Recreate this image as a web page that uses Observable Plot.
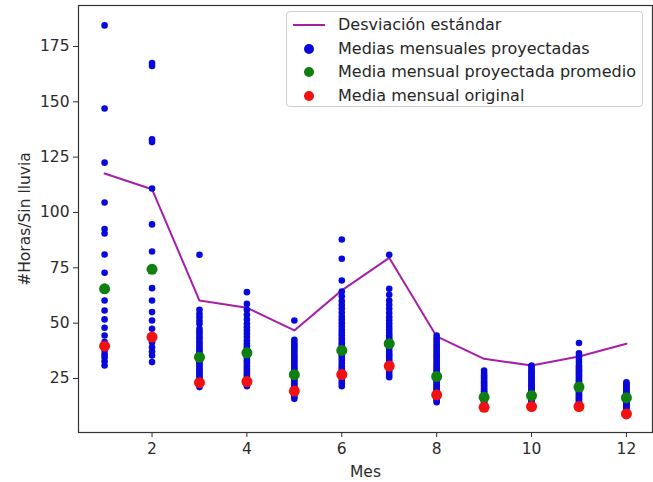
<!DOCTYPE html>
<html>
<head>
<meta charset="utf-8">
<script src="https://cdn.jsdelivr.net/npm/d3@7"></script>
<script src="https://cdn.jsdelivr.net/npm/@observablehq/plot@0.6"></script>
<style>
  body { margin: 0; background: #fff; }
  #wrap { position: relative; width: 653px; height: 482px; font-family: "DejaVu Sans", sans-serif; }
  #legend {
    position: absolute; left: 286px; top: 11px; width: 357px; height: 96px;
    box-sizing: border-box; border: 1px solid #d0d0d0; border-radius: 4px;
    background: rgba(255,255,255,0.85); font-size: 16px; color: #262626;
  }
  .row { position: absolute; left: 0; height: 24px; line-height: 24px; }
  .row span.t { position: absolute; left: 51px; white-space: nowrap; }
  .sw-line { position: absolute; left: 6px; top: 11px; width: 32px; height: 2px; }
  .sw-dot { position: absolute; left: 17px; top: 7px; width: 10px; height: 10px; border-radius: 50%; }
</style>
</head>
<body>
<div id="wrap"><div id="chart"></div><div id="legend"></div></div>
<script>
// Months on the x axis
const meses = [1, 2, 3, 4, 5, 6, 7, 8, 9, 10, 11, 12];

// Projected monthly means (one list per month, hours without rain)
const proyectadas = [
  [184.5, 147, 122.5, 104.5, 92.5, 90.5, 81, 72.8, 65.5, 60.2, 55.7, 51.7, 47.9, 44.4, 41.5, 39.6, 37.7, 36, 34.6, 32.8, 30.9],
  [167.5, 166.2, 133, 131.8, 110.8, 94.6, 82.4, 74.3, 65.8, 60.2, 55, 51.2, 47.5, 43.7, 41.4, 39.1, 37.2, 35.4, 32.4],
  [80.9, 56, 54.2, 52.7, 51.1, 49.7, 47.5, 46.3, 45.2, 43.9, 42.9, 41.7, 40.7, 39.5, 38.4, 37.4, 36.5, 35.5, 34.6, 33.7, 33, 32.2, 31.6, 30.5, 29.5, 28.7, 27.8, 26.9, 26, 25.2, 24.5, 23.8, 23.1, 22.1, 21.1],
  [64, 58.7, 56, 53.8, 51.6, 49.7, 48.1, 46.7, 45.2, 43.7, 42.1, 40.7, 39.6, 38.5, 37.5, 36.6, 35.5, 34.5, 33.4, 32.5, 31.5, 30.5, 29.5, 28.5, 27.6, 26.8, 25.9, 25, 24.3, 23.6, 22.5, 21.5],
  [51.2, 42.5, 41.5, 40.5, 39.5, 38.5, 37.5, 36.5, 35.5, 34.5, 33.5, 32.5, 31.5, 30.5, 29.6, 28.6, 27.6, 26.7, 25.7, 24.8, 23.9, 23, 22.1, 21.2, 20.2, 19.3, 18.4, 17.5, 16.6, 15.8],
  [87.8, 79.1, 69.3, 64.3, 62.1, 60, 58.2, 56.5, 54.7, 53, 51.5, 50, 48.5, 47, 45.7, 44.5, 43.2, 42, 40.9, 39.8, 38.7, 37.7, 36.6, 35.5, 34.2, 33, 31.7, 30.5, 29.5, 28.5, 27.6, 26.8, 25.4, 24, 22.7, 21.5],
  [80.9, 65.5, 62.8, 60.2, 58.3, 56.5, 54.6, 52.7, 51.2, 49.7, 48.3, 47, 45.7, 44.5, 43.5, 42.5, 41.6, 40.7, 39.6, 38.5, 37.2, 36, 35, 34, 33, 32, 31.3, 30.6, 29.3, 28, 26.8, 25.6],
  [44.4, 43.2, 42, 41, 40, 39, 38, 37, 36, 35, 34, 33, 32, 31.1, 30.3, 29.4, 28.6, 27.8, 27, 26.4, 25.9, 25.2, 24.5, 23.7, 23, 22.2, 21.5, 20.7, 20, 19.4, 18.8, 18.2, 17.6, 16.8, 16, 15.1, 14.3],
  [28.6, 27.5, 26.5, 25.6, 24.8, 24, 23.2, 22.5, 21.8, 21.1, 20.5, 19.8, 19.2, 18.6, 18, 17.2, 16.5, 15.8, 15.2, 14.6, 14, 13.5, 13, 12.5, 12],
  [30.9, 30, 29, 28.2, 27.5, 26.7, 26, 25.2, 24.5, 23.7, 23, 22.4, 21.8, 21.1, 20.5, 19.8, 19.2, 18.6, 18, 17.6, 17.3, 16.6, 16, 15.4, 14.8, 14.1, 13.5, 12.9, 12.3],
  [41, 36.4, 35, 33.5, 32.2, 30.9, 30.2, 29.5, 28.7, 28, 27.2, 26.5, 25.7, 25, 24.2, 23.5, 22.8, 22.2, 21.6, 21.1, 20.4, 19.8, 19.1, 18.5, 17.8, 17.2, 16.6, 16, 15.4, 14.8, 14.1, 13.5, 12.9, 12.3],
  [23.3, 22.6, 22, 21.4, 20.8, 20.3, 19.8, 19.3, 18.8, 18.3, 17.8, 17, 16.3, 15.7, 15.2, 14.7, 14.2, 13.7, 13.2, 12.7, 12.3, 11.8, 11.4]
];

// Average of the projected means, per month
const promedio = [65.5, 74.3, 34.6, 36.6, 26.7, 37.7, 40.7, 25.9, 16.5, 17.3, 21.1, 16.3];

// Original monthly mean
const original = [39.6, 43.7, 23.1, 23.6, 19.3, 26.8, 30.6, 17.6, 12, 12.3, 12.3, 9.0];

// Standard deviation of the projections
const desviacion = [117.6, 110.5, 60.2, 57, 46.7, 64.8, 79.5, 44, 33.9, 30.9, 34.9, 40.7];

// Tick values
const xTicks = [2, 4, 6, 8, 10, 12];
const yTicks = [25, 50, 75, 100, 125, 150, 175];

const colores = { desv: "#a61fa9", proy: "#0808dc", prom: "#0f800f", orig: "#f21010" };

const puntos = proyectadas.flatMap((vals, i) => vals.map(v => ({ mes: meses[i], valor: v })));
const lineaDesv = meses.map((m, i) => ({ mes: m, valor: desviacion[i] }));
const puntosProm = meses.map((m, i) => ({ mes: m, valor: promedio[i] }));
const puntosOrig = meses.map((m, i) => ({ mes: m, valor: original[i] }));

const chart = Plot.plot({
  width: 653,
  height: 482,
  marginLeft: 78,
  marginRight: 1,
  marginTop: 5,
  marginBottom: 50,
  style: { fontFamily: "DejaVu Sans, sans-serif", fontSize: "15.5px", color: "#2b2b2b", background: "#fff" },
  x: { domain: [0.45, 12.55] },
  y: { domain: [0.6, 193.5] },
  marks: [
    Plot.line(lineaDesv, { x: "mes", y: "valor", stroke: colores.desv, strokeWidth: 2 }),
    Plot.dot(puntos, { x: "mes", y: "valor", r: 3.3, fill: colores.proy }),
    Plot.dot(puntosProm, { x: "mes", y: "valor", r: 5.5, fill: colores.prom }),
    Plot.dot(puntosOrig, { x: "mes", y: "valor", r: 5.5, fill: colores.orig }),
    Plot.frame({ stroke: "#333", strokeWidth: 1.2 }),
    Plot.axisX({ ticks: xTicks, tickSize: 5, tickPadding: 5, stroke: "#333",
                 label: "Mes", labelAnchor: "center", labelArrow: "none", labelOffset: 44 }),
    Plot.axisY({ ticks: yTicks, tickSize: 5, tickPadding: 4, stroke: "#333",
                 label: "#Horas/Sin lluvia", labelAnchor: "center", labelArrow: "none", labelOffset: 60 })
  ]
});
document.getElementById("chart").appendChild(chart);

// Legend drawn over the upper right of the axes
const entradas = [
  { tipo: "line", color: colores.desv, texto: "Desviación estándar" },
  { tipo: "dot", color: colores.proy, texto: "Medias mensuales proyectadas" },
  { tipo: "dot", color: colores.prom, texto: "Media mensual proyectada promedio" },
  { tipo: "dot", color: colores.orig, texto: "Media mensual original" }
];
const leg = document.getElementById("legend");
entradas.forEach((e, i) => {
  const row = document.createElement("div");
  row.className = "row";
  row.style.top = (1 + i * 23.7) + "px";
  const sw = document.createElement("div");
  sw.className = e.tipo === "line" ? "sw-line" : "sw-dot";
  sw.style.background = e.color;
  const t = document.createElement("span");
  t.className = "t";
  t.textContent = e.texto;
  row.appendChild(sw);
  row.appendChild(t);
  leg.appendChild(row);
});
</script>
</body>
</html>
